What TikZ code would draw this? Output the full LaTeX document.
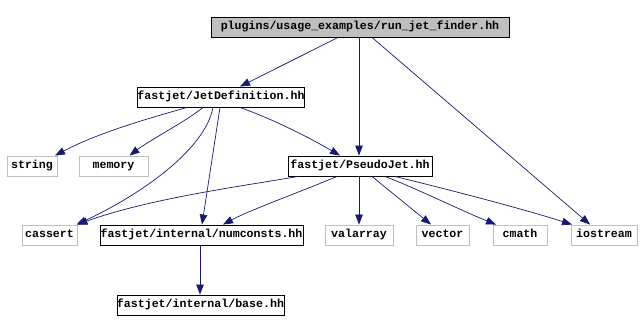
\documentclass[tikz,border=0pt]{standalone}
\usepackage{fontspec}
\setmonofont{Liberation Mono}
\usetikzlibrary{arrows.meta}
\definecolor{edgecol}{HTML}{191970}
\definecolor{graybox}{HTML}{BFBFBF}
\tikzset{
  filebox/.style={draw=black, line width=0.9pt, rectangle, minimum height=20pt, inner sep=0pt,
    text height=8pt, text depth=2.5pt,
    font=\ttfamily\bfseries\fontsize{11.6}{12}\selectfont, text=black},
  sysbox/.style={filebox, draw=graybox},
  rootbox/.style={filebox, fill=graybox},
  dep/.style={draw=edgecol, line width=0.7pt, -{Triangle[length=10pt,width=7.5pt]}, fill=none},
}
\begin{document}
\begin{tikzpicture}[x=1pt,y=-1pt]
\useasboundingbox (0,0) rectangle (642,332);
\node[rootbox, minimum width=298pt] (root) at (360,27) {plugins/usage\_examples/run\_jet\_finder.hh};
\node[filebox, minimum width=164pt] (jet) at (221,97) {fastjet/JetDefinition.hh};
\node[sysbox, minimum width=50pt] (string) at (32,166) {string};
\node[sysbox, minimum width=69pt] (memory) at (113.5,166) {memory};
\node[filebox, minimum width=144pt] (pseudo) at (360,166) {fastjet/PseudoJet.hh};
\node[sysbox, minimum width=55pt] (cassert) at (49.5,235) {cassert};
\node[filebox, minimum width=203pt] (numc) at (201.5,235) {fastjet/internal/numconsts.hh};
\node[sysbox, minimum width=68pt] (valarray) at (359,235) {valarray};
\node[sysbox, minimum width=53pt] (vector) at (442.5,235) {vector};
\node[sysbox, minimum width=54pt] (cmath) at (520,235) {cmath};
\node[sysbox, minimum width=66pt] (iostream) at (604,235) {iostream};
\node[filebox, minimum width=163pt] (base) at (200.5,305) {fastjet/internal/base.hh};

% root edges
\draw[dep] ([xshift=-22pt]root.south) -- ([xshift=19pt]jet.north);
\draw[dep] ([xshift=-1pt]root.south) -- ([xshift=-1pt]pseudo.north);
\draw[dep] ([xshift=12pt]root.south) -- ([xshift=-14pt]iostream.north);
% JetDefinition edges
\draw[dep] ([xshift=-34pt]jet.south) .. controls (150,118) and (100,132) .. ([xshift=23pt]string.north);
\draw[dep] ([xshift=-18pt]jet.south) .. controls (185,122) and (150,140) .. ([xshift=16pt]memory.north);
\draw[dep] ([xshift=-8pt]jet.south) .. controls (205,150) and (140,195) .. ([xshift=27pt]cassert.north);
\draw[dep] ([xshift=-1pt]jet.south) -- ([xshift=0.5pt]numc.north);
\draw[dep] ([xshift=19pt]jet.south) .. controls (275,120) and (310,138) .. ([xshift=-20pt]pseudo.north);
% PseudoJet edges
\draw[dep] ([xshift=-62pt]pseudo.south) .. controls (250,185) and (150,198) .. ([xshift=28pt]cassert.north);
\draw[dep] ([xshift=-23pt]pseudo.south) .. controls (300,192) and (250,210) .. ([xshift=21.5pt]numc.north);
\draw[dep] ([xshift=-1pt]pseudo.south) -- (valarray.north);
\draw[dep] ([xshift=12pt]pseudo.south) -- ([xshift=-11.5pt]vector.north);
\draw[dep] ([xshift=25pt]pseudo.south) .. controls (420,190) and (460,210) .. ([xshift=-24pt]cmath.north);
\draw[dep] ([xshift=35pt]pseudo.south) .. controls (450,190) and (520,208) .. ([xshift=-32pt]iostream.north);
% numconsts edge
\draw[dep] ([xshift=-1.5pt]numc.south) -- ([xshift=-0.5pt]base.north);
\end{tikzpicture}
\end{document}
